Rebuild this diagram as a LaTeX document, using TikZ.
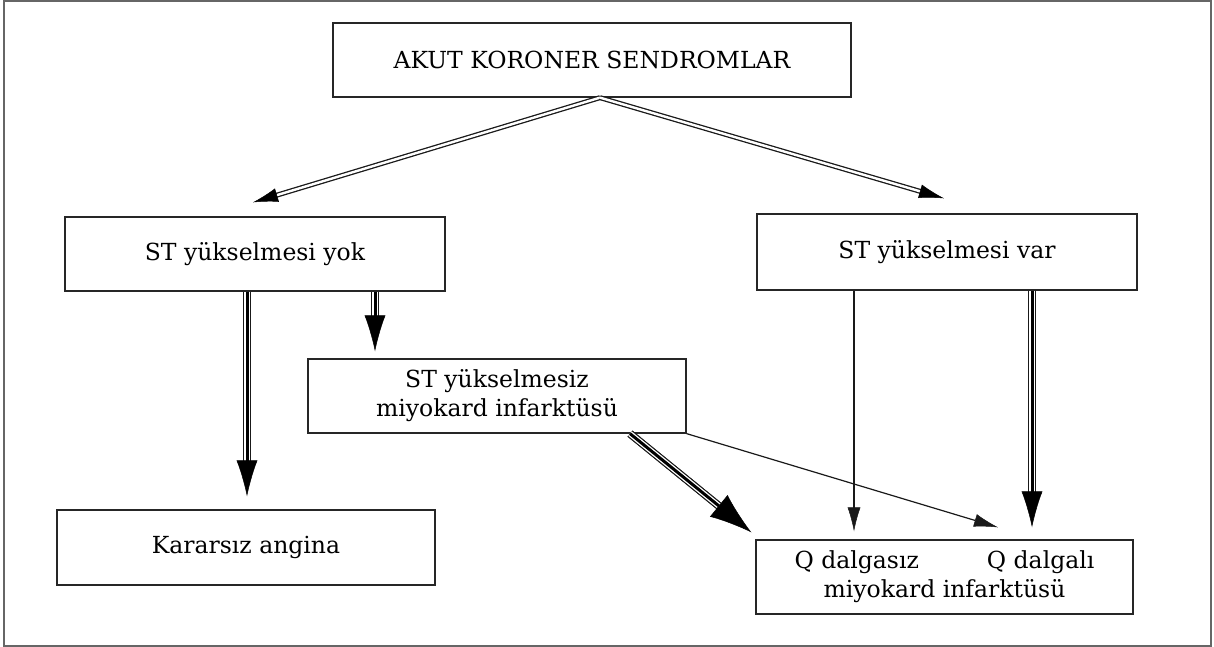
\documentclass[tikz,border=0pt]{standalone}
\usepackage{fontspec}
\setmainfont{DejaVu Serif}
\usetikzlibrary{arrows.meta}
\tikzset{
  box/.style={draw=black!85, line width=1.3pt, inner sep=0pt, align=center,
    font=\fontsize{23.5}{29}\selectfont},
  thinarrow/.style={draw=black!90, line width=1.2pt,
    -{Latex[length=24pt,width=13pt,line width=0.5pt]}},
  dblarrow/.style={line width=0.4pt, white,
    -{Latex[length=25pt,width=14pt,line width=0.5pt,color=black]},
    preaction={draw=black!90, line width=1.3pt, double=white, double distance=2.4pt,
      arrows=-, shorten >=23pt}},
  triplearrow/.style={draw=black, line width=3pt,
    -{Latex[length=36pt,width=21pt,line width=0.5pt]},
    preaction={draw=black!90, line width=1.1pt, double=white, double distance=5.6pt,
      arrows=-, shorten >=34pt}},
  bigtriple/.style={triplearrow,
    -{Latex[length=42pt,width=28pt,line width=0.5pt]},
    preaction={draw=black!90, line width=1.1pt, double=white, double distance=5.6pt,
      arrows=-, shorten >=38pt}},
}
\begin{document}
\begin{tikzpicture}[x=1pt,y=1pt]
\useasboundingbox (0,0) rectangle (1214,647);
\draw[black!60, line width=2.4pt] (4,1) rectangle (1211,646);

\node[box, minimum width=518pt, minimum height=74pt] (top) at (592,587) {AKUT KORONER SENDROMLAR};
\node[box, minimum width=380pt, minimum height=74pt] (yok) at (255,393) {ST yükselmesi yok};
\node[box, minimum width=380pt, minimum height=76pt] (var) at (947,395) {ST yükselmesi var};
\node[box, minimum width=378pt, minimum height=74pt] (mid) at (497,251) {ST yükselmesiz\\miyokard infarktüsü};
\node[box, minimum width=378pt, minimum height=75pt] (kar) at (246,99.5) {Kararsız angina};
\node[box, minimum width=377pt, minimum height=74pt] (q) at (944.5,70) {Q dalgasız\hspace{68pt}Q dalgalı\\miyokard infarktüsü};

\draw[dblarrow] ([xshift=8pt]top.south) -- ([xshift=-2pt,yshift=14pt]yok.north);
\draw[dblarrow] ([xshift=8pt]top.south) -- ([xshift=-3pt,yshift=15pt]var.north);

\draw[triplearrow] ([xshift=-8pt]yok.south) -- ([xshift=1pt,yshift=13pt]kar.north);
\draw[triplearrow] ([xshift=120pt]yok.south) -- ([xshift=-122pt,yshift=7pt]mid.north);
\draw[bigtriple] ([xshift=133pt]mid.south) -- ([xshift=-4pt,yshift=7pt]q.north west);
\draw[thinarrow] (mid.south east) -- ([xshift=53.5pt,yshift=12pt]q.north);
\draw[thinarrow] ([xshift=-93pt]var.south) -- ([xshift=-90.5pt,yshift=8pt]q.north);
\draw[triplearrow] ([xshift=85pt]var.south) -- ([xshift=87.5pt,yshift=12pt]q.north);
\end{tikzpicture}
\end{document}
